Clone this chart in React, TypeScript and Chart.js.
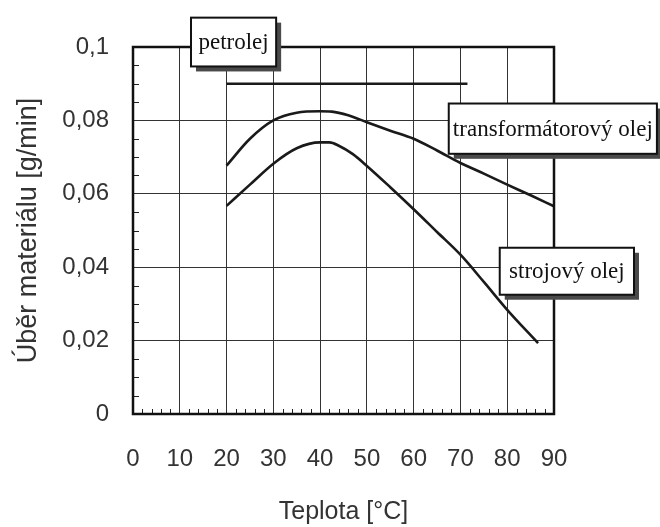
import React, { useEffect, useRef } from "react";
import { Chart, registerables } from "chart.js";

Chart.register(...registerables);

// ---- data ----
const xTickValues = [0, 10, 20, 30, 40, 50, 60, 70, 80, 90];
const yTickLabels = ["0", "0,02", "0,04", "0,06", "0,08", "0,1"];

const petrolejTemps = [20, 71.5];
const petrolejValues = [0.09, 0.09];

const transformatorTemps = [20, 25, 30, 35, 40, 42.5, 46, 50, 55, 60, 65, 70, 75, 80, 85, 90];
const transformatorValues = [0.0677, 0.075, 0.08, 0.0821, 0.0825, 0.0824, 0.0814, 0.0795, 0.0772, 0.075, 0.0718, 0.0684, 0.0655, 0.0625, 0.0596, 0.0566];

const strojTemps = [20, 25, 30, 35, 40, 42, 44, 47, 50, 55, 60, 65, 70, 75, 80, 86.6];
const strojValues = [0.0567, 0.0625, 0.0682, 0.0724, 0.074, 0.074, 0.0731, 0.0708, 0.0676, 0.0618, 0.0558, 0.0496, 0.0434, 0.036, 0.0284, 0.0193];

const labelTexts = ["petrolej", "transformátorový olej", "strojový olej"];

const toPoints = (xs: number[], ys: number[]) => xs.map((x, i) => ({ x, y: ys[i] }));

// label boxes, anchored in data units
const boxes = [
  { text: labelTexts[0], x1: 12.4, x2: 30.6, y1: 0.108, y2: 0.0947 },
  { text: labelTexts[1], x1: 67.5, x2: 112.0, y1: 0.0846, y2: 0.0709 },
  { text: labelTexts[2], x1: 78.4, x2: 107.1, y1: 0.0453, y2: 0.0325 },
];

const framePlugin = {
  id: "frameAndMinor",
  afterDraw(chart: any) {
    const { ctx, chartArea, scales } = chart;
    const xs = scales.x;
    const ys = scales.y;
    ctx.save();
    // minor ticks
    ctx.strokeStyle = "#222";
    ctx.lineWidth = 1;
    ctx.beginPath();
    for (let v = 0.005; v < 0.1; v += 0.005) {
      const r = Math.round(v * 1000) / 1000;
      if (Math.abs(r / 0.02 - Math.round(r / 0.02)) < 1e-6) continue;
      const py = Math.round(ys.getPixelForValue(r)) + 0.5;
      ctx.moveTo(chartArea.left, py);
      ctx.lineTo(chartArea.left + 6, py);
    }
    for (let v = 2; v < 90; v += 2) {
      if (v % 10 === 0) continue;
      const px = Math.round(xs.getPixelForValue(v)) + 0.5;
      ctx.moveTo(px, chartArea.bottom);
      ctx.lineTo(px, chartArea.bottom - 5);
    }
    ctx.stroke();
    // frame
    ctx.strokeStyle = "#111";
    ctx.lineWidth = 2.5;
    ctx.strokeRect(chartArea.left, chartArea.top, chartArea.right - chartArea.left, chartArea.bottom - chartArea.top);

    // label boxes
    ctx.font = "23px 'Liberation Serif', 'Times New Roman', serif";
    ctx.textAlign = "center";
    ctx.textBaseline = "middle";
    boxes.forEach((b) => {
      const l = xs.getPixelForValue(b.x1);
      const r = xs.getPixelForValue(b.x2);
      const t = ys.getPixelForValue(b.y1);
      const bt = ys.getPixelForValue(b.y2);
      ctx.fillStyle = "#4a4a4a";
      ctx.fillRect(l + 5, t + 5, r - l, bt - t);
      ctx.fillStyle = "#ffffff";
      ctx.fillRect(l, t, r - l, bt - t);
      ctx.strokeStyle = "#111";
      ctx.lineWidth = 2;
      ctx.strokeRect(l, t, r - l, bt - t);
      ctx.fillStyle = "#111";
      ctx.fillText(b.text, (l + Math.min(r, 657)) / 2, (t + bt) / 2 + 1);
    });
    ctx.restore();
  },
};

export default function App() {
  const ref = useRef<HTMLCanvasElement | null>(null);
  useEffect(() => {
    document.body.style.margin = "0";
    const canvas = ref.current!;
    const lineStyle = {
      borderColor: "#1a1a1a",
      borderWidth: 2.6,
      pointRadius: 0,
      fill: false,
      cubicInterpolationMode: "monotone" as const,
    };
    const chart = new Chart(canvas, {
      type: "line",
      data: {
        datasets: [
          { label: labelTexts[0], data: toPoints(petrolejTemps, petrolejValues), ...lineStyle },
          { label: labelTexts[1], data: toPoints(transformatorTemps, transformatorValues), ...lineStyle },
          { label: labelTexts[2], data: toPoints(strojTemps, strojValues), ...lineStyle },
        ],
      },
      options: {
        animation: false,
        responsive: false,
        devicePixelRatio: 1,
        layout: { padding: { left: 0, top: 47, right: 106, bottom: 0 } },
        plugins: { legend: { display: false }, tooltip: { enabled: false } },
        scales: {
          x: {
            type: "linear",
            min: 0,
            max: 90,
            afterFit: (s: any) => { s.height = 113; },
            afterBuildTicks: (s: any) => { s.ticks = xTickValues.map((v) => ({ value: v })); },
            grid: { color: "#333", lineWidth: 1, drawTicks: false },
            border: { display: false },
            ticks: {
              padding: 31,
              color: "#333",
              font: { family: "'Liberation Sans', Arial, sans-serif", size: 24 },
              callback: (v: any) => String(v),
            },
            title: {
              display: true,
              text: "Teplota [°C]",
              color: "#333",
              font: { family: "'Liberation Sans', Arial, sans-serif", size: 25 },
              padding: { top: 0, bottom: 0 },
            },
          },
          y: {
            type: "linear",
            min: 0,
            max: 0.1,
            afterFit: (s: any) => { s.width = 133; },
            afterBuildTicks: (s: any) => { s.ticks = yTickLabels.map((_, i) => ({ value: i * 0.02 })); },
            grid: { color: "#333", lineWidth: 1, drawTicks: false },
            border: { display: false },
            ticks: {
              padding: 24,
              color: "#333",
              font: { family: "'Liberation Sans', Arial, sans-serif", size: 24 },
              callback: (_v: any, i: number) => yTickLabels[i],
            },
            title: {
              display: true,
              text: "Úběr materiálu [g/min]",
              color: "#333",
              font: { family: "'Liberation Sans', Arial, sans-serif", size: 27 },
              padding: { top: 12, bottom: 0 },
            },
          },
        },
      },
      plugins: [framePlugin],
    });
    return () => chart.destroy();
  }, []);
  return <canvas ref={ref} width={660} height={527} style={{ display: "block" }} />;
}
